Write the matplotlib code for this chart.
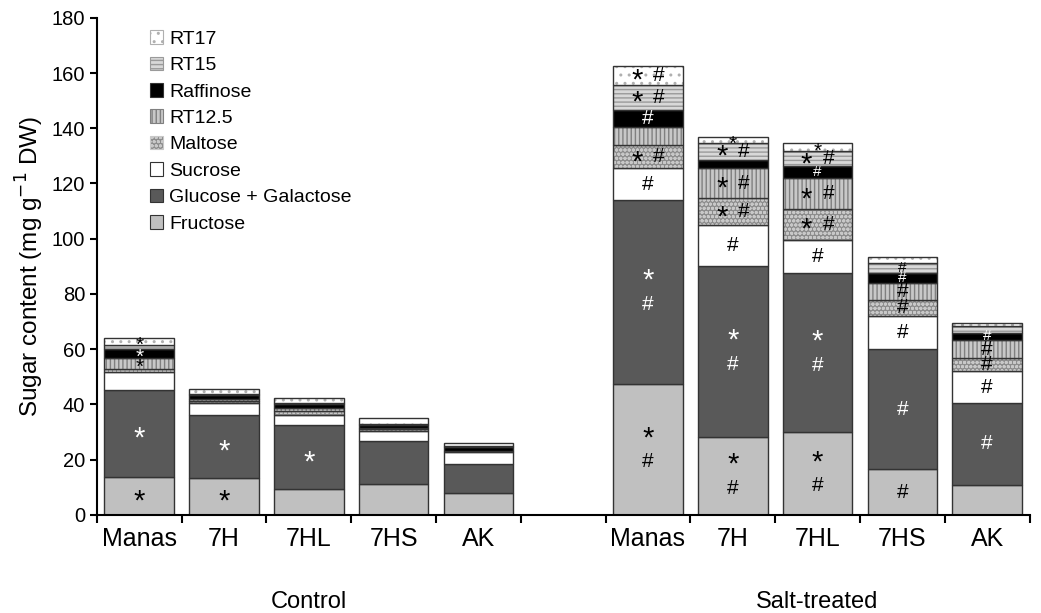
import matplotlib
matplotlib.use("Agg")
import matplotlib.pyplot as plt
import numpy as np

# x slots: 5 control lines, a gap, 5 salt-treated lines
lines = ["Manas", "7H", "7HL", "7HS", "AK"]
groups = ["Control", "Salt-treated"]

components = ["Fructose", "Glucose + Galactose", "Sucrose", "Maltose",
              "RT12.5", "Raffinose", "RT15", "RT17"]

# values (mg g-1 DW), order = lines
control = {
    "Fructose":            [13.9, 13.5, 9.5, 11.1, 7.9],
    "Glucose + Galactose": [31.4, 22.6, 23.1, 15.6, 10.5],
    "Sucrose":             [6.4, 4.6, 3.7, 3.7, 4.4],
    "Maltose":             [1.3, 0.7, 1.5, 0.6, 0.2],
    "RT12.5":              [3.7, 0.6, 1.0, 0.3, 0.2],
    "Raffinose":           [3.4, 1.3, 1.3, 1.3, 1.4],
    "RT15":                [1.6, 0.6, 0.6, 0.5, 0.3],
    "RT17":                [2.4, 1.7, 1.5, 1.9, 1.0],
}
salt = {
    "Fructose":            [47.5, 28.3, 30.0, 16.5, 11.0],
    "Glucose + Galactose": [66.5, 61.7, 57.5, 43.5, 29.5],
    "Sucrose":             [11.5, 15.0, 12.1, 12.1, 11.5],
    "Maltose":             [8.5, 9.6, 11.1, 5.8, 4.7],
    "RT12.5":              [6.6, 10.9, 11.2, 6.0, 6.7],
    "Raffinose":           [6.1, 3.0, 4.3, 3.6, 2.6],
    "RT15":                [9.0, 6.2, 5.4, 3.7, 2.4],
    "RT17":                [6.9, 2.1, 3.0, 2.1, 1.0],
}

# significance marks: (slot, component) -> (layout, colour)
# "*" / "#" single, "*#v" stacked, "*#h" side by side
marks = {
    (0, "Fructose"): ("*", "k"), (0, "Glucose + Galactose"): ("*", "w"),
    (0, "RT12.5"): ("*", "k"), (0, "Raffinose"): ("*", "w"), (0, "RT17"): ("*", "k"),
    (1, "Fructose"): ("*", "k"), (1, "Glucose + Galactose"): ("*", "w"),
    (2, "Glucose + Galactose"): ("*", "w"),
    (6, "Fructose"): ("*#v", "k"), (6, "Glucose + Galactose"): ("*#v", "w"),
    (6, "Sucrose"): ("#", "k"), (6, "Maltose"): ("*#h", "k"),
    (6, "Raffinose"): ("#", "w"), (6, "RT15"): ("*#h", "k"), (6, "RT17"): ("*#h", "k"),
    (7, "Fructose"): ("*#v", "k"), (7, "Glucose + Galactose"): ("*#v", "w"),
    (7, "Sucrose"): ("#", "k"), (7, "Maltose"): ("*#h", "k"),
    (7, "RT12.5"): ("*#h", "k"), (7, "RT15"): ("*#h", "k"), (7, "RT17"): ("*", "k"),
    (8, "Fructose"): ("*#v", "k"), (8, "Glucose + Galactose"): ("*#v", "w"),
    (8, "Sucrose"): ("#", "k"), (8, "Maltose"): ("*#h", "k"),
    (8, "RT12.5"): ("*#h", "k"), (8, "Raffinose"): ("#", "w"),
    (8, "RT15"): ("*#h", "k"), (8, "RT17"): ("*", "k"),
    (9, "Fructose"): ("#", "k"), (9, "Glucose + Galactose"): ("#", "w"),
    (9, "Sucrose"): ("#", "k"), (9, "Maltose"): ("#", "k"),
    (9, "RT12.5"): ("#", "k"), (9, "Raffinose"): ("#", "w"), (9, "RT15"): ("#", "k"),
    (10, "Glucose + Galactose"): ("#", "w"), (10, "Sucrose"): ("#", "k"),
    (10, "Maltose"): ("#", "k"), (10, "RT12.5"): ("#", "k"), (10, "Raffinose"): ("#", "w"),
}

# style per component: face, hatch, hatch colour
styles = {
    "Fructose":            ("#c0c0c0", None, None),
    "Glucose + Galactose": ("#595959", None, None),
    "Sucrose":             ("#ffffff", None, None),
    "Maltose":             ("#8c8c8c", "oooo", "#c8c8c8"),
    "RT12.5":              ("#c8c8c8", "||||", "#808080"),
    "Raffinose":           ("#000000", None, None),
    "RT15":                ("#d8d8d8", "----", "#9a9a9a"),
    "RT17":                ("#ffffff", "..", "#b0b0b0"),
}

plt.rcParams['font.family'] = ['Liberation Sans', 'DejaVu Sans']
plt.rcParams['hatch.linewidth'] = 1.0

fig = plt.figure(figsize=(10.41, 6.13), dpi=100)
ax = fig.add_axes([0.093, 0.16, 0.896, 0.811])

slots = [0, 1, 2, 3, 4, 6, 7, 8, 9, 10]
x = np.array(slots) + 0.5
width = 0.82


def put(xc, yc, sym, col, small, dx=0, dy=0):
    if sym == "*":
        size = 15 if small else 21
        shift = -3 if small else -4
    else:
        size = 11 if small else 15
        shift = 0
    ax.annotate(sym, (xc, yc), xytext=(dx, dy + shift),
                textcoords="offset points", ha="center", va="center",
                color=col, fontsize=size)


bottom = np.zeros(len(slots))
handles = []
for comp in components:
    vals = np.array(control[comp] + salt[comp])
    face, hatch, hcol = styles[comp]
    if hatch:
        ax.bar(x, vals, width, bottom=bottom, color=face, hatch=hatch,
               edgecolor=hcol, linewidth=0)
    ax.bar(x, vals, width, bottom=bottom, color=face if not hatch else "none",
           edgecolor="#333333", linewidth=1.0)
    h = plt.Rectangle((0, 0), 1, 1, facecolor=face, hatch=hatch,
                      edgecolor=hcol if hatch else "#333333", linewidth=0.8)
    handles.append(h)
    for i, s in enumerate(slots):
        if (s, comp) in marks:
            kind, col = marks[(s, comp)]
            yc = bottom[i] + vals[i] / 2
            small = vals[i] < 4.5
            if kind == "*#v":
                put(x[i], yc, "*", col, small, dy=12)
                put(x[i], yc, "#", col, small, dy=-9)
            elif kind == "*#h":
                put(x[i], yc, "*", col, small, dx=-8)
                put(x[i], yc, "#", col, small, dx=8)
            else:
                put(x[i], yc, kind, col, small)
    bottom += vals

leg = ax.legend(handles[::-1], components[::-1], loc="upper left",
                bbox_to_anchor=(0.043, 1.0), frameon=False, fontsize=14,
                handlelength=0.7, handleheight=0.7, handletextpad=0.3,
                labelspacing=0.45, borderaxespad=0.25)

ax.set_xlim(0, 11)
ax.set_ylim(0, 180)
ax.set_yticks(np.arange(0, 181, 20))
ax.tick_params(axis="y", labelsize=14.5, direction="out", length=5, width=1.5)
ax.set_xticks(np.arange(0, 12))
ax.set_xticklabels([])
ax.tick_params(axis="x", which="major", direction="out", length=6, width=1.5)
ax.set_xticks(x, minor=True)
ax.set_xticklabels(lines + lines, minor=True)
ax.tick_params(axis="x", which="minor", length=0, labelsize=18, pad=9)

ax.set_ylabel("Sugar content (mg g$^{-1}$ DW)", fontsize=17.5)

for g, cx in zip(groups, [2.5, 8.5]):
    ax.text(cx, -31.5, g, ha="center", va="center", fontsize=17,
            clip_on=False)

ax.spines["top"].set_visible(False)
ax.spines["right"].set_visible(False)
ax.spines["left"].set_linewidth(1.5)
ax.spines["bottom"].set_linewidth(1.5)

plt.savefig("out.png", dpi=100)
